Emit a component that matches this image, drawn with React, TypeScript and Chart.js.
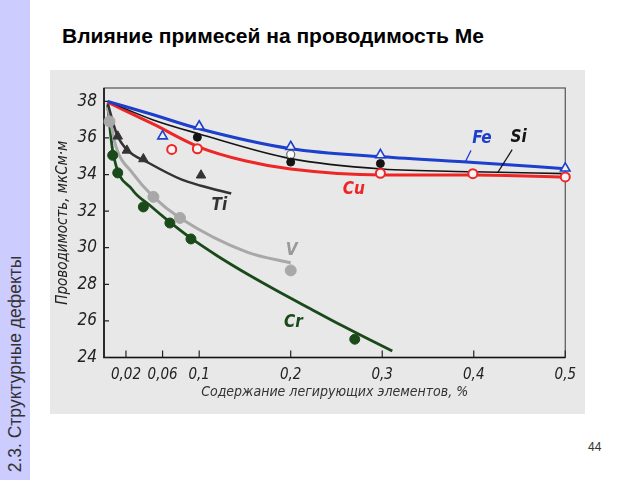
import React, { useEffect, useRef } from "react";
import { Chart, registerables } from "chart.js";

Chart.register(...registerables);

// ---- axis ticks ----
const xTickValues = [0.02, 0.06, 0.1, 0.2, 0.3, 0.4, 0.5];
const yTickValues = [24, 26, 28, 30, 32, 34, 36, 38];

// ---- fitted curves ----
const feCurveX = [0, 0.049, 0.1, 0.2, 0.3, 0.4, 0.5];
const feCurveY = [38.0, 37.28, 36.5, 35.41, 34.97, 34.66, 34.32];
const siCurveX = [0, 0.049, 0.1, 0.2, 0.3, 0.4, 0.5];
const siCurveY = [38.0, 37.0, 36.22, 34.87, 34.3, 34.15, 34.05];
const cuCurveX = [0, 0.05, 0.1, 0.15, 0.2, 0.3, 0.4, 0.5];
const cuCurveY = [37.95, 36.75, 35.5, 34.75, 34.3, 33.98, 33.98, 33.85];
const tiCurveX = [0, 0.01, 0.021, 0.045, 0.081, 0.102, 0.135];
const tiCurveY = [37.9, 36.2, 35.36, 34.63, 33.72, 33.39, 32.96];
const vCurveX = [0, 0.009, 0.027, 0.05, 0.079, 0.153, 0.2];
const vCurveY = [37.7, 35.54, 34.09, 32.78, 31.63, 29.75, 29.18];
const crCurveX = [0, 0.0055, 0.027, 0.045, 0.068, 0.091, 0.12, 0.153, 0.185, 0.221, 0.257, 0.293, 0.311];
const crCurveY = [37.8, 35.3, 33.17, 32.36, 31.4, 30.52, 29.55, 28.55, 27.65, 26.68, 25.72, 24.8, 24.35];

// ---- measured points ----
const fePointX = [0.06, 0.1, 0.2, 0.298, 0.5];
const fePointY = [36.1, 36.64, 35.52, 35.07, 34.34];
const siPointX = [0.098, 0.2, 0.298];
const siPointY = [36.04, 34.68, 34.6];
const siOpenX = [0.2];
const siOpenY = [35.1];
const cuPointX = [0.07, 0.098, 0.298, 0.399, 0.5];
const cuPointY = [35.37, 35.41, 34.07, 34.05, 33.87];
const tiPointX = [0.011, 0.021, 0.039, 0.102];
const tiPointY = [36.09, 35.32, 34.85, 33.96];
const vPointX = [0.002, 0.05, 0.079, 0.2];
const vPointY = [36.9, 32.78, 31.63, 28.76];
const crPointX = [0.0055, 0.011, 0.039, 0.068, 0.091, 0.27];
const crPointY = [35.05, 34.09, 32.23, 31.35, 30.48, 25.0];

// ---- curve labels ----
const labelTexts = ["Fe", "Si", "Cu", "Ti", "V", "Cr"];
const labelX = [0.409, 0.449, 0.269, 0.122, 0.201, 0.203];
const labelY = [35.96, 36.0, 33.2, 32.29, 29.86, 25.92];

const COLORS = {
  fe: "#1c3fcc",
  si: "#141414",
  cu: "#ee2626",
  ti: "#333333",
  v: "#a8a8a8",
  cr: "#1a4a1a",
};
const labelColors = [COLORS.fe, COLORS.si, COLORS.cu, COLORS.ti, "#9a9a9a", COLORS.cr];

// leader lines (Fe, Si)
const leaderFrom = [
  [0.397, 35.32],
  [0.442, 35.36],
];
const leaderTo = [
  [0.391, 34.72],
  [0.426, 34.09],
];

const FONT = "'Liberation Sans Narrow', 'DejaVu Sans Condensed', 'DejaVu Sans', sans-serif";

const pts = (xs: number[], ys: number[]) => xs.map((x, i) => ({ x, y: ys[i] }));

const curve = (label: string, xs: number[], ys: number[], color: string, width: number) => ({
  label,
  data: pts(xs, ys),
  showLine: true,
  borderColor: color,
  borderWidth: width,
  pointRadius: 0,
  cubicInterpolationMode: "monotone" as const,
  fill: false,
  order: 2,
});

const markers = (
  label: string,
  xs: number[],
  ys: number[],
  style: string,
  radius: number,
  bg: string,
  border: string,
  bw: number
) => ({
  label,
  data: pts(xs, ys),
  showLine: false,
  pointStyle: style,
  pointRadius: radius,
  backgroundColor: bg,
  borderColor: border,
  borderWidth: bw,
  clip: false,
  order: 1,
});

const framePlugin = {
  id: "frame",
  beforeDatasetsDraw(chart: any) {
    const { ctx, chartArea: a, scales } = chart;
    ctx.save();
    ctx.strokeStyle = "#555";
    ctx.lineWidth = 1.2;
    ctx.strokeRect(a.left, a.top, a.right - a.left, a.bottom - a.top);
    ctx.strokeStyle = "#111";
    ctx.lineWidth = 1.6;
    ctx.beginPath();
    ctx.moveTo(a.left, a.top);
    ctx.lineTo(a.left, a.bottom);
    ctx.lineTo(a.right, a.bottom);
    ctx.stroke();
    ctx.lineWidth = 1.2;
    ctx.strokeStyle = "#222";
    ctx.beginPath();
    for (const v of xTickValues) {
      const px = scales.x.getPixelForValue(v);
      ctx.moveTo(px, a.bottom);
      ctx.lineTo(px, a.bottom - 7);
    }
    for (const v of yTickValues) {
      const py = scales.y.getPixelForValue(v);
      ctx.moveTo(a.left, py);
      ctx.lineTo(a.left + 5, py);
    }
    ctx.stroke();
    ctx.restore();
  },
  afterDatasetsDraw(chart: any) {
    const { ctx, scales } = chart;
    ctx.save();
    ctx.lineWidth = 1.2;
    for (let i = 0; i < leaderFrom.length; i++) {
      ctx.strokeStyle = i === 0 ? COLORS.fe : COLORS.si;
      ctx.beginPath();
      ctx.moveTo(scales.x.getPixelForValue(leaderFrom[i][0]), scales.y.getPixelForValue(leaderFrom[i][1]));
      ctx.lineTo(scales.x.getPixelForValue(leaderTo[i][0]), scales.y.getPixelForValue(leaderTo[i][1]));
      ctx.stroke();
    }
    ctx.textAlign = "center";
    ctx.textBaseline = "middle";
    ctx.font = `italic bold 17px ${FONT}`;
    labelTexts.forEach((t, i) => {
      ctx.fillStyle = labelColors[i];
      ctx.fillText(t, scales.x.getPixelForValue(labelX[i]), scales.y.getPixelForValue(labelY[i]));
    });
    ctx.restore();
  },
};

function ConductivityChart() {
  const ref = useRef<HTMLCanvasElement | null>(null);
  useEffect(() => {
    if (!ref.current) return;
    const chart = new Chart(ref.current, {
      type: "scatter",
      data: {
        datasets: [
          markers("Fe точки", fePointX, fePointY, "triangle", 5.5, "#efefef", COLORS.fe, 1.6),
          markers("Si точки", siPointX, siPointY, "circle", 4, COLORS.si, COLORS.si, 1),
          markers("Si точки (откр.)", siOpenX, siOpenY, "circle", 4, "#ffffff", "#666", 1.2),
          markers("Cu точки", cuPointX, cuPointY, "circle", 4.5, "#f4f4f4", COLORS.cu, 2),
          markers("Ti точки", tiPointX, tiPointY, "triangle", 5.5, COLORS.ti, COLORS.ti, 1),
          markers("V точки", vPointX, vPointY, "circle", 5.5, COLORS.v, COLORS.v, 1),
          markers("Cr точки", crPointX, crPointY, "circle", 5, COLORS.cr, COLORS.cr, 1),
          curve("Fe", feCurveX, feCurveY, COLORS.fe, 3),
          curve("Si", siCurveX, siCurveY, COLORS.si, 1.6),
          curve("Cu", cuCurveX, cuCurveY, COLORS.cu, 3),
          curve("Ti", tiCurveX, tiCurveY, COLORS.ti, 2.5),
          curve("V", vCurveX, vCurveY, COLORS.v, 3),
          curve("Cr", crCurveX, crCurveY, COLORS.cr, 2.8),
        ],
      },
      options: {
        animation: false,
        responsive: false,
        maintainAspectRatio: false,
        layout: { padding: { top: 18, right: 13, left: 0, bottom: 0 } },
        plugins: { legend: { display: false }, tooltip: { enabled: false } },
        scales: {
          x: {
            type: "linear",
            min: -0.004,
            max: 0.5,
            grid: { display: false, drawTicks: false },
            border: { display: false },
            afterBuildTicks: (s: any) => {
              s.ticks = xTickValues.map((v) => ({ value: v }));
            },
            afterFit: (s: any) => {
              s.height = 56.5;
            },
            ticks: {
              autoSkip: false,
              maxRotation: 0,
              padding: 9,
              color: "#222",
              font: { family: FONT, size: 15, style: "italic" },
              callback: (v: any) => String(v).replace(".", ","),
            },
            title: {
              display: true,
              text: "Содержание легирующих элементов, %",
              color: "#333",
              padding: { top: 0, bottom: 13 },
              font: { family: FONT, size: 14, style: "italic" },
            },
          },
          y: {
            type: "linear",
            min: 24,
            max: 38.73,
            grid: { display: false, drawTicks: false },
            border: { display: false },
            afterBuildTicks: (s: any) => {
              s.ticks = yTickValues.map((v) => ({ value: v }));
            },
            afterFit: (s: any) => {
              s.width = 54;
            },
            ticks: {
              padding: 7,
              color: "#222",
              font: { family: FONT, size: 17, style: "italic" },
            },
            title: {
              display: true,
              text: "Проводимость, мкСм·м",
              color: "#222",
              padding: { top: 4, bottom: 0 },
              font: { family: FONT, size: 15, style: "italic" },
            },
          },
        },
      },
      plugins: [framePlugin],
    } as any);
    return () => chart.destroy();
  }, []);
  return <canvas ref={ref} width={535} height={344} style={{ width: 535, height: 344, display: "block" }} />;
}

export default function App() {
  return (
    <div
      style={{
        position: "absolute",
        left: 0,
        top: 0,
        width: 640,
        height: 480,
        background: "#ffffff",
        overflow: "hidden",
        fontFamily: "'Liberation Sans', Arial, sans-serif",
      }}
    >
      <div style={{ position: "absolute", left: 0, top: 0, width: 30, height: 480, background: "#ccccff" }} />
      <div
        style={{
          position: "absolute",
          left: 15,
          top: 364,
          transform: "translate(-50%, -50%) rotate(-90deg)",
          whiteSpace: "nowrap",
          fontSize: 17.5,
          color: "#333",
          lineHeight: "20px",
        }}
      >
        2.3. Структурные дефекты
      </div>
      <div
        style={{
          position: "absolute",
          left: 62,
          top: 24,
          fontWeight: "bold",
          fontSize: 21,
          lineHeight: "24px",
          color: "#000",
          whiteSpace: "nowrap",
        }}
      >
        Влияние примесей на проводимость Ме
      </div>
      <div style={{ position: "absolute", left: 50, top: 70, width: 535, height: 344, background: "#e8e8e8" }}>
        <ConductivityChart />
      </div>
      <div style={{ position: "absolute", left: 588, top: 440, fontSize: 12, lineHeight: "14px", color: "#333" }}>
        44
      </div>
    </div>
  );
}
